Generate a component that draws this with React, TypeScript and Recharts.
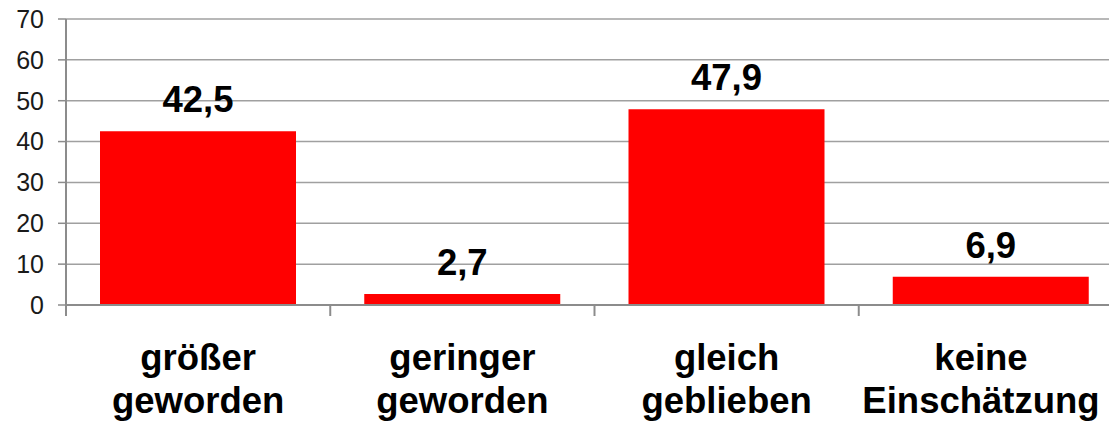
import React from 'react';
import { BarChart, Bar, XAxis, YAxis, CartesianGrid, LabelList } from 'recharts';

const categories = ['größer\ngeworden', 'geringer\ngeworden', 'gleich\ngeblieben', 'keine\nEinschätzung'];
const values = [42.5, 2.7, 47.9, 6.9];
const yTicks = [0, 10, 20, 30, 40, 50, 60, 70];

const data = categories.map((c, i) => ({ name: c, value: values[i] }));

const CHART_W = 1123;
const CHART_H = 426;
const Y_W = 58;
const MARGIN = { top: 19, right: 0, bottom: 0, left: 8 };
const X_H = CHART_H - MARGIN.top - 286;
const HALF_BAND = (CHART_W - Y_W - MARGIN.left - MARGIN.right) / categories.length / 2;
const LABEL_MAX_X = 981;
const FONT = '"Liberation Sans", Arial, sans-serif';

const XTick = (props: any) => {
  const { x, y, payload } = props;
  const lines = String(payload.value).split('\n');
  const bx = x - HALF_BAND;
  const tx = Math.min(x, LABEL_MAX_X);
  return (
    <g>
      <line x1={bx} y1={y} x2={bx} y2={y + 11} stroke="#8c8c8c" strokeWidth={2} />
      <text x={tx} y={y} textAnchor="middle" fontFamily={FONT} fontWeight="bold" fontSize={36.5} fill="#000">
        <tspan x={tx} y={y + 65}>{lines[0]}</tspan>
        <tspan x={tx} y={y + 108}>{lines[1]}</tspan>
      </text>
    </g>
  );
};

export default function App() {
  return (
    <div style={{ position: 'absolute', left: 0, top: 0, width: 1109, height: CHART_H, overflow: 'hidden' }}>
      <BarChart width={CHART_W} height={CHART_H} data={data} margin={MARGIN}>
        <CartesianGrid vertical={false} stroke="#a0a0a0" strokeWidth={1.5} />
        <XAxis
          dataKey="name"
          height={X_H}
          interval={0}
          tickSize={0}
          tickMargin={0}
          tickLine={false}
          axisLine={{ stroke: '#8c8c8c', strokeWidth: 2 }}
          tick={<XTick />}
        />
        <YAxis
          width={Y_W}
          domain={[0, 70]}
          ticks={yTicks}
          interval={0}
          tickSize={8}
          tickMargin={14}
          axisLine={{ stroke: '#8c8c8c', strokeWidth: 2 }}
          tickLine={{ stroke: '#8c8c8c', strokeWidth: 1.5 }}
          tick={{ fontFamily: FONT, fontSize: 25, fill: '#1a1a1a' }}
        />
        <Bar dataKey="value" fill="#ff0000" barSize={196} isAnimationActive={false}>
          <LabelList
            dataKey="value"
            position="top"
            offset={19}
            formatter={(v: any) => String(v).replace('.', ',')}
            style={{ fontFamily: FONT, fontWeight: 'bold', fontSize: 36.5, fill: '#000' }}
          />
        </Bar>
      </BarChart>
    </div>
  );
}
